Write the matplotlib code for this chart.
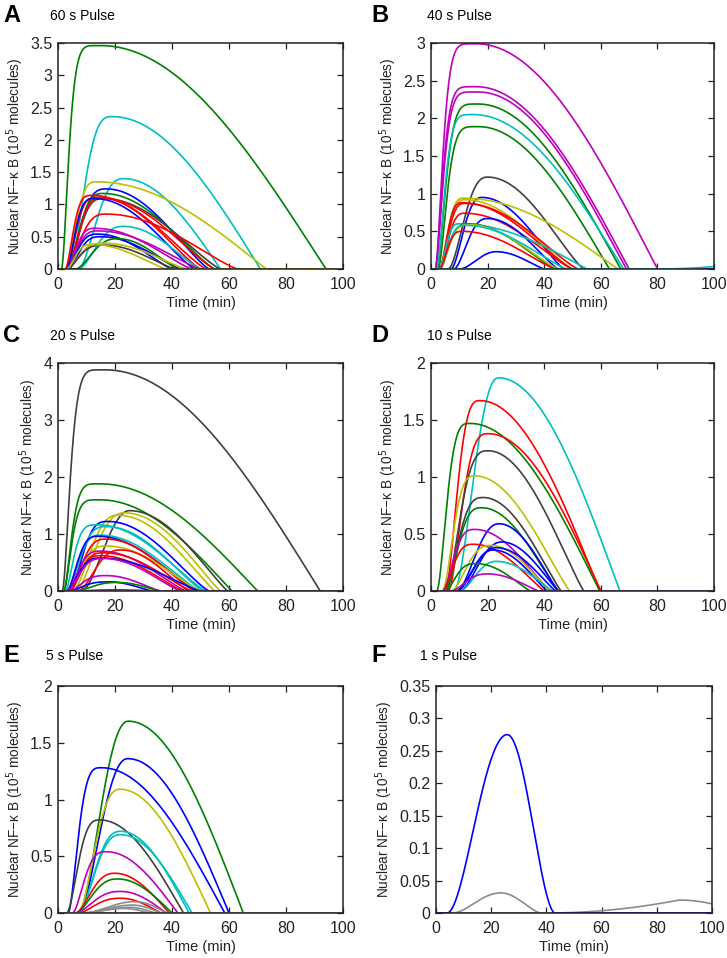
import numpy as np
import matplotlib
matplotlib.use("Agg")
import matplotlib.pyplot as plt
from matplotlib.ticker import FuncFormatter

plt.rcParams['font.family'] = ['Liberation Sans', 'DejaVu Sans']

# MATLAB-style colours
B = '#0000ff'; G = '#008000'; R = '#ff0000'; C = '#00bfbf'
M = '#bf00bf'; Y = '#bfbf00'; K = '#404040'; GR = '#8c8c8c'

# each curve: (colour, onset, peak time, peak value, end time, rise sharpness, decay exponent)
curves_60s = [
    (G, 1.2, 15, 3.46, 94, 6, 1.0),
    (C, 4, 19, 2.36, 71, 3, 1.0),
    (C, 7, 23, 1.40, 57, 2.5, 1.0),
    (Y, 2.5, 13.5, 1.35, 73, 3, 1.0),
    (B, 3, 17, 1.24, 53, 3, 1.2),
    (G, 3, 16, 1.17, 55, 3, 1.2),
    (R, 2.5, 12, 1.14, 52, 3.5, 1.2),
    (R, 3, 14, 1.11, 50, 3.5, 1.2),
    (K, 3, 16, 1.09, 57, 3, 1.2),
    (R, 3.5, 15, 1.10, 55, 3, 1.2),
    (B, 3, 13, 1.09, 48, 3.5, 1.2),
    (R, 3, 17, 0.85, 63, 3, 1.2),
    (C, 7, 23, 0.66, 50, 2.5, 1.2),
    (M, 3, 13, 0.63, 47, 3, 1.2),
    (M, 3, 14, 0.59, 50, 3, 1.2),
    (B, 3, 14, 0.54, 40, 3, 1.2),
    (B, 3.5, 15, 0.50, 43, 3, 1.2),
    (G, 6, 21, 0.47, 42, 2.5, 1.2),
    (Y, 3, 16, 0.40, 45, 3, 1.2),
    (K, 3, 16, 0.37, 41, 3, 1.2),
    (Y, 3, 12, 0.38, 38, 3, 1.2),
]

curves_40s = [
    (M, 1.5, 16, 2.99, 80, 6, 1.0),
    (M, 1.5, 16, 2.42, 70, 6, 1.0),
    (M, 1.5, 16.7, 2.35, 69, 6, 1.0),
    (G, 2, 16.7, 2.19, 67, 5, 1.0),
    (C, 2, 15, 2.05, 68, 5, 1.0),
    (G, 2.5, 16.7, 1.89, 63, 5, 1.0),
    (K, 6, 20, 1.22, 54, 2.5, 1.2),
    (B, 7, 18, 0.95, 47, 2.5, 1.2),
    (Y, 3, 11.5, 0.94, 66, 3, 1.0),
    (Y, 3, 12, 0.92, 50, 3, 1.2),
    (R, 3, 11, 0.88, 50, 3, 1.2),
    (R, 3, 12, 0.87, 52, 3, 1.2),
    (R, 3, 12, 0.74, 50, 3, 1.2),
    (B, 8, 20, 0.67, 45, 2.5, 1.2),
    (C, 3, 10, 0.60, 55, 3, 1.0),
    (G, 3, 13, 0.60, 44, 3, 1.2),
    (Y, 3, 13, 0.59, 45, 3, 1.2),
    (C, 3, 12, 0.58, 48, 3, 1.2),
    (R, 3, 11, 0.50, 44, 3, 1.2),
    (B, 10, 23, 0.23, 40, 2, 1.2),
    (C, 80, 105, 0.05, 130, 1, 1.0),
]

curves_20s = [
    (K, 1.5, 16.5, 3.88, 92, 6, 1.0),
    (G, 2, 14.7, 1.88, 70, 5, 1.0),
    (G, 2, 14.7, 1.60, 61, 5, 1.0),
    (K, 8, 25, 1.41, 59.5, 2, 1.1),
    (Y, 6, 23.5, 1.37, 57, 2.5, 1.1),
    (Y, 5, 21, 1.33, 55, 2.5, 1.1),
    (B, 4, 17.5, 1.22, 53, 3, 1.2),
    (C, 2.5, 14, 1.16, 52, 4, 1.2),
    (C, 3, 17, 1.13, 51, 3, 1.2),
    (C, 3, 15, 0.98, 50, 3, 1.2),
    (B, 3, 14, 0.96, 49, 3, 1.2),
    (R, 4, 17, 0.91, 48, 3, 1.2),
    (Y, 4, 17, 0.79, 50, 3, 1.2),
    (R, 7, 22, 0.72, 46, 2.5, 1.2),
    (M, 3, 15, 0.70, 45, 3, 1.2),
    (R, 4, 16, 0.67, 47, 3, 1.2),
    (R, 4, 15, 0.62, 44, 3, 1.2),
    (B, 3, 15, 0.58, 50, 3, 1.2),
    (M, 3, 16, 0.57, 43, 3, 1.2),
    (M, 4, 17, 0.27, 36, 3, 1.2),
    (B, 4, 18, 0.16, 33, 3, 1.2),
    (G, 6, 21, 0.15, 36, 2.5, 1.2),
    (K, 6, 20, 0.02, 34, 2.5, 1.2),
    ('#8050a0', 10, 20, 0.0, 40, 2, 1.0),
]

curves_10s = [
    (C, 8, 23.8, 1.87, 66.7, 2.2, 1.0),
    (R, 5, 17.3, 1.67, 59.6, 3, 1.0),
    (G, 2, 13.8, 1.47, 59.6, 3.5, 1.0),
    (R, 6, 20.2, 1.38, 60, 3, 1.0),
    (K, 5, 20.2, 1.23, 54, 3, 1.1),
    (Y, 4, 15.5, 1.01, 49, 3, 1.1),
    (K, 5, 18.5, 0.82, 46, 3, 1.1),
    (G, 5, 18, 0.73, 45, 3, 1.1),
    (B, 9, 24, 0.59, 45, 2.2, 1.1),
    (M, 4, 15.5, 0.54, 42, 3, 1.1),
    (B, 10, 25, 0.43, 45, 2.2, 1.1),
    (R, 4, 15, 0.41, 40, 3, 1.1),
    (Y, 7, 21, 0.40, 42, 2.5, 1.1),
    (B, 9, 23, 0.38, 44, 2.2, 1.1),
    (B, 9, 22, 0.36, 41, 2.2, 1.1),
    (C, 10, 23, 0.26, 43, 2.2, 1.1),
    (G, 5, 16, 0.24, 35, 3, 1.1),
    (M, 7, 20, 0.15, 38, 2.5, 1.1),
    ('#8050a0', 10, 20, 0.0, 40, 2, 1.0),
]

curves_5s = [
    (G, 7, 24.7, 1.69, 65, 2.2, 1.0),
    (B, 7, 24.5, 1.36, 60, 2.2, 1.0),
    (B, 3.5, 15.3, 1.28, 58.5, 3.5, 1.0),
    (Y, 7, 21.8, 1.09, 53.5, 2.5, 1.0),
    (K, 3, 14.7, 0.82, 44, 3, 1.0),
    (C, 7, 22, 0.72, 46, 2.5, 1.0),
    (C, 7, 22, 0.69, 47, 2.5, 1.0),
    (M, 5, 17, 0.54, 42, 3, 1.0),
    (R, 6, 20, 0.35, 39, 2.5, 1.0),
    (G, 6, 21, 0.30, 40, 2.5, 1.0),
    (M, 6, 22, 0.19, 38, 2.5, 1.0),
    (R, 7, 22, 0.13, 36, 2.5, 1.0),
    (GR, 9, 27, 0.10, 38, 2, 1.0),
    (GR, 9, 26, 0.07, 36, 2, 1.0),
    (GR, 9, 25, 0.05, 34, 2, 1.0),
    (GR, 9, 23, 0.04, 32, 2, 1.0),
    (GR, 10, 20, 0.0, 40, 2, 1.0),
]

curves_1s = [
    (GR, 10, 20, 0.0, 40, 2, 1.0),
    (GR, 40, 88, 0.020, 112, 1, 1.0),
    (GR, 6, 23.5, 0.031, 38, 2, 1.5),
    (B, 4, 25.8, 0.275, 43, 2, 1.7),
]

panel_letters = ['A', 'B', 'C', 'D', 'E', 'F']
panel_titles = ['60 s Pulse', '40 s Pulse', '20 s Pulse', '10 s Pulse', '5 s Pulse', '1 s Pulse']
panel_curves = [curves_60s, curves_40s, curves_20s, curves_10s, curves_5s, curves_1s]
y_max = [3.5, 3, 4, 2, 2, 0.35]
y_step = [0.5, 0.5, 1, 0.5, 0.5, 0.05]
x_ticks = [0, 20, 40, 60, 80, 100]
x_label = 'Time (min)'
y_label = 'Nuclear NF\u2212\u03ba B (10$^5$ molecules)'

W, H = 727, 958
# axes boxes in pixels: left, top, right, bottom
boxes = [
    (58, 43, 343, 269), (431, 43, 714, 269),
    (58, 363, 343, 591), (431, 363, 714, 591),
    (58, 686, 343, 913), (436, 686, 712, 913),
]
letter_pos = [(3, 22), (371, 22), (3, 342), (371, 342), (3, 662), (371, 662)]
title_pos = [(50, 20), (427, 20), (50, 340), (427, 340), (46, 660), (420, 660)]


def shape(t, onset, tpk, peak, tend, rise, decay):
    y = np.zeros_like(t)
    r = (t >= onset) & (t <= tpk)
    x = (t[r] - onset) / (tpk - onset)
    y[r] = peak * (1 - (1 - x) ** rise) ** 2
    d = (t > tpk) & (t < tend)
    u = (t[d] - tpk) / (tend - tpk)
    y[d] = peak * np.cos(np.pi / 2 * u) ** decay
    return y


fig = plt.figure(figsize=(W / 100, H / 100), dpi=100)
t = np.linspace(0, 100, 2001)
fmt = FuncFormatter(lambda v, p: f'{v:g}')

for i in range(6):
    l, tp, rr, bt = boxes[i]
    ax = fig.add_axes([l / W, 1 - bt / H, (rr - l) / W, (bt - tp) / H])
    for (col, on, tpk, pk, te, rise, dec) in panel_curves[i]:
        ax.plot(t, shape(t, on, tpk, pk, te, rise, dec), color=col, lw=1.2, clip_on=True)
    ax.set_xlim(0, 100)
    ax.set_ylim(0, y_max[i])
    ax.set_xticks(x_ticks)
    ax.set_yticks(np.arange(0, y_max[i] + 1e-9, y_step[i]))
    ax.xaxis.set_major_formatter(fmt)
    ax.yaxis.set_major_formatter(fmt)
    ax.tick_params(direction='in', top=True, right=True, length=4, width=0.9,
                   labelsize=11.5, colors='#222222', pad=4)
    ax.tick_params(axis='x', pad=6)
    for s in ax.spines.values():
        s.set_linewidth(1.1)
        s.set_color('#222222')
    ax.set_xlabel(x_label, fontsize=10.5, labelpad=3, color='#222222')
    ax.set_ylabel(y_label, fontsize=9.8, labelpad=3, color='#222222')
    lx, ly = letter_pos[i]
    fig.text(lx / W, 1 - ly / H, panel_letters[i], fontsize=17, fontweight='bold',
             ha='left', va='baseline')
    tx, ty = title_pos[i]
    fig.text(tx / W, 1 - ty / H, panel_titles[i], fontsize=10, ha='left', va='baseline')

fig.savefig('out.png', dpi=100)
